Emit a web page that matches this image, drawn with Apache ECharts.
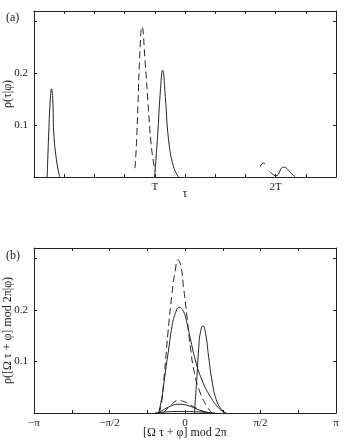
<!DOCTYPE html>
<html>
<head>
<meta charset="utf-8">
<script src="https://cdn.jsdelivr.net/npm/echarts@6/dist/echarts.min.js"></script>
<style>
html, body { margin: 0; padding: 0; background: #fff; }
#box { width: 345px; height: 441px; }
</style>
</head>
<body>
<div id="box"></div>
<script>
// panel (a): tau in units of T, panel (b): phase in units of pi
const tauLabels = { 4: 'T', 8: '2T' };          // key = round(v*4)
const phaseLabels = { '-4': '−π', '-2': '−π/2', '0': '0', '2': 'π/2', '4': 'π' };
const yLabels = { 1: '0.1', 2: '0.2' };

// (a) first solid peak
const tauSolid1 = [[0.109, 0], [0.122, 0.085], [0.135, 0.15], [0.145, 0.17], [0.155, 0.15],
  [0.164, 0.085], [0.186, 0.033], [0.213, 0]];
// (a) dashed peak before T
const tauDashed1 = [[0.836, 0.017], [0.847, 0.059], [0.861, 0.142], [0.874, 0.226], [0.894, 0.29],
  [0.921, 0.219], [0.944, 0.142], [0.969, 0.065], [0.99, 0.027], [1.004, 0.011]];
// (a) solid peak after T
const tauSolid2 = [[0.998, 0], [1.023, 0.078], [1.045, 0.162], [1.065, 0.206], [1.087, 0.155],
  [1.114, 0.072], [1.155, 0.02], [1.197, 0]];
// (a) small bumps near 2T
const tauDashed2 = [[1.872, 0.02], [1.9, 0.027], [1.915, 0.024]];
const tauSolid3 = [[1.949, 0.011], [2.004, 0.0025], [2.065, 0.019], [2.134, 0.006], [2.16, 0]];

// (b) phase densities
const phDashedBig = [[-0.175, 0], [-0.159, 0.013], [-0.142, 0.058], [-0.113, 0.155], [-0.086, 0.232],
  [-0.064, 0.277], [-0.047, 0.297], [-0.027, 0.284], [-0.01, 0.245], [0.013, 0.187], [0.035, 0.129],
  [0.063, 0.077], [0.101, 0.039], [0.145, 0.013], [0.178, 0]];
const phSolidBig = [[-0.175, 0], [-0.152, 0.032], [-0.131, 0.077], [-0.109, 0.122], [-0.086, 0.168],
  [-0.064, 0.193], [-0.038, 0.205], [-0.01, 0.197], [0.013, 0.174], [0.035, 0.145], [0.068, 0.103],
  [0.112, 0.064], [0.167, 0.032], [0.222, 0.01], [0.266, 0]];
const phSolidNarrow = [[0.063, 0], [0.07, 0.032], [0.079, 0.071], [0.09, 0.122], [0.101, 0.155],
  [0.119, 0.169], [0.136, 0.155], [0.156, 0.11], [0.178, 0.064], [0.207, 0.026], [0.244, 0.006], [0.273, 0]];
const phDashedSmall = [[-0.142, 0], [-0.098, 0.014], [-0.043, 0.024], [0.002, 0.021], [0.057, 0.012], [0.134, 0.001]];
const phSolidSmall = [[-0.175, 0], [-0.119, 0.01], [-0.038, 0.017], [0.035, 0.013], [0.101, 0.005], [0.167, 0]];
const phSolidFlat = [[-0.2, 0], [-0.05, 0.003], [0.1, 0.002], [0.2, 0]];

const font = "'Liberation Serif', 'DejaVu Serif', serif";
const ink = '#222';

function xAxis(grid, pos, min, max, interval, labels, name, gap) {
  return {
    type: 'value', gridIndex: grid, position: pos, min: min, max: max, interval: interval,
    axisLine: { onZero: false, lineStyle: { color: ink, width: 1 } },
    axisTick: { inside: true, length: 3, lineStyle: { color: ink } },
    splitLine: { show: false },
    axisLabel: {
      show: pos === 'bottom', margin: 5, fontFamily: font, fontSize: 11, color: ink,
      formatter: v => labels[Math.round(v * 4)] || ''
    },
    name: name || '', nameLocation: 'middle', nameGap: gap || 0, nameMoveOverlap: false,
    nameTextStyle: { fontFamily: font, fontSize: 12, color: ink }
  };
}
function yAxis(grid, pos, name) {
  return {
    type: 'value', gridIndex: grid, position: pos, min: 0, max: 0.32, interval: 0.1,
    axisLine: { onZero: false, lineStyle: { color: ink, width: 1 } },
    axisTick: { inside: true, length: 3, lineStyle: { color: ink } },
    splitLine: { show: false },
    axisLabel: {
      show: pos === 'left', margin: 6, fontFamily: font, fontSize: 11, color: ink,
      formatter: v => (Math.abs(v * 10 - Math.round(v * 10)) < 1e-6 && yLabels[Math.round(v * 10)]) || ''
    },
    name: name || '', nameLocation: 'middle', nameGap: 20, nameRotate: 90, nameMoveOverlap: false,
    nameTextStyle: { fontFamily: font, fontSize: 12, color: ink }
  };
}
function line(x, y, data, dashed) {
  return {
    type: 'line', xAxisIndex: x, yAxisIndex: y, data: data, showSymbol: false,
    smooth: 0.5, silent: true,
    lineStyle: { color: ink, width: 1, type: dashed ? [7, 4] : 'solid' }
  };
}

let myChart = echarts.init(document.getElementById('box'));
let option = {
  animation: false,
  grid: [
    { left: 34, right: 9, top: 11, height: 166, outerBoundsMode: 'none', containLabel: false },
    { left: 34, right: 9, top: 248, height: 165, outerBoundsMode: 'none', containLabel: false }
  ],
  xAxis: [
    xAxis(0, 'bottom', 0, 2.5, 0.25, tauLabels, 'τ', 11),
    xAxis(0, 'top', 0, 2.5, 0.25, tauLabels),
    xAxis(1, 'bottom', -1, 1, 0.25, phaseLabels, '[Ω τ + φ] mod 2π', 14),
    xAxis(1, 'top', -1, 1, 0.25, phaseLabels)
  ],
  yAxis: [
    yAxis(0, 'left', 'ρ(τ|φ)'),
    yAxis(0, 'right'),
    yAxis(1, 'left', 'ρ([Ω τ + φ] mod 2π|φ)'),
    yAxis(1, 'right')
  ],
  graphic: [
    { type: 'text', left: 6, top: 12, style: { text: '(a)', font: '12px ' + font, fill: ink } },
    { type: 'text', left: 6, top: 250, style: { text: '(b)', font: '12px ' + font, fill: ink } }
  ],
  series: [
    line(0, 0, tauSolid1), line(0, 0, tauDashed1, true), line(0, 0, tauSolid2),
    line(0, 0, tauDashed2, true), line(0, 0, tauSolid3),
    line(2, 2, phDashedBig, true), line(2, 2, phSolidBig), line(2, 2, phSolidNarrow),
    line(2, 2, phDashedSmall, true), line(2, 2, phSolidSmall), line(2, 2, phSolidFlat)
  ]
};
myChart.setOption(option);
</script>
</body>
</html>
